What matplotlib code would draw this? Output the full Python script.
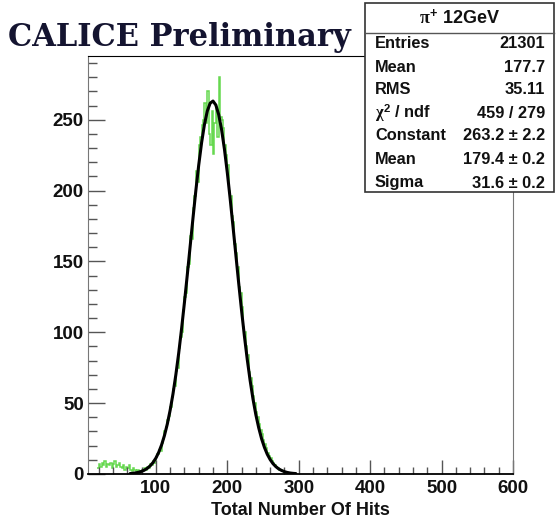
import numpy as np
import matplotlib
matplotlib.use("Agg")
import matplotlib.pyplot as plt
from matplotlib.patches import Rectangle
from matplotlib.ticker import MultipleLocator

# ---- data ----
bin_start = 18
bin_width = 2
tail_counts = [4, 7, 5, 8, 6, 9, 5, 7, 6, 8, 4, 7, 9, 5, 6, 8, 5, 4, 6, 3,
               5, 4, 6, 3, 2, 4, 3, 2, 3, 1, 2]
peak_counts = [3, 2, 4, 3, 5, 4, 7, 6, 9, 8,
               12, 14, 17, 16, 22, 25, 30, 33, 38, 41,
               47, 54, 60, 62, 73, 75, 89, 97, 100, 116,
               125, 128, 146, 148, 168, 166, 188, 196, 214, 206,
               232, 238, 246, 250, 262, 248, 270, 240, 232, 256,
               226, 248, 258, 238, 280, 252, 250, 244, 232, 225,
               218, 200, 196, 182, 178, 162, 156, 146, 132, 128,
               118, 104, 100, 90, 84, 72, 68, 62, 55, 50,
               44, 40, 35, 31, 28, 24, 21, 18, 15, 13,
               11, 9, 8, 6, 5, 4, 3, 3, 2, 2,
               1, 1, 1, 0]

fit_x = [64, 68, 72, 76, 80, 84, 88, 92, 96, 100, 104, 108, 112, 116, 120,
         124, 128, 132, 136, 140, 144, 148, 152, 156, 160, 164, 168, 172,
         176, 180, 184, 188, 192, 196, 200, 204, 208, 212, 216, 220, 224,
         228, 232, 236, 240, 244, 248, 252, 256, 260, 264, 268, 272, 276,
         280, 284, 288, 292, 296]
fit_y = [0.33, 0.53, 0.82, 1.25, 1.87, 2.76, 4.01, 5.74, 8.08, 11.2, 15.3,
         20.5, 27.1, 35.2, 45.0, 56.6, 70.1, 85.4, 102.5, 121.0, 140.5,
         160.7, 180.7, 200.1, 218.0, 233.7, 246.6, 256.1, 261.7, 263.2,
         260.4, 253.6, 243.1, 229.3, 212.8, 194.4, 174.7, 154.6, 134.5,
         115.3, 97.2, 80.7, 65.9, 52.9, 41.8, 32.6, 24.9, 18.8, 13.9, 10.2,
         7.3, 5.2, 3.6, 2.5, 1.66, 1.1, 0.7, 0.46, 0.29]

stats_title = r"$\pi^{+}$ 12GeV"
stats_labels = ["Entries", "Mean", "RMS", r"$\chi^{2}$ / ndf", "Constant", "Mean", "Sigma"]
stats_values = ["21301", "177.7", "35.11", "459 / 279",
                "263.2 \u00b1 2.2", "179.4 \u00b1 0.2", "31.6 \u00b1 0.2"]

xlim = (5, 600)
ylim = (0, 295)

# ---- figure ----
W, H = 557, 519
fig = plt.figure(figsize=(W / 100, H / 100), dpi=100)
plt.rcParams['font.family'] = ['Liberation Sans', 'DejaVu Sans']
plt.rcParams['mathtext.fontset'] = 'custom'
plt.rcParams['mathtext.rm'] = 'Liberation Sans:bold'
plt.rcParams['mathtext.it'] = 'Liberation Serif:bold'

ax = fig.add_axes([88 / W, 1 - 474 / H, (513 - 88) / W, (474 - 56) / H])

counts = tail_counts + peak_counts
edges = bin_start + bin_width * np.arange(len(counts) + 1)
ax.stairs(counts, edges, color='#66d84f', linewidth=1.1, baseline=None)
ax.plot(fit_x, fit_y, color='black', linewidth=2.2, solid_capstyle='round')

ax.set_xlim(*xlim)
ax.set_ylim(*ylim)
ax.xaxis.set_major_locator(MultipleLocator(100))
ax.xaxis.set_minor_locator(MultipleLocator(20))
ax.yaxis.set_major_locator(MultipleLocator(50))
ax.yaxis.set_minor_locator(MultipleLocator(10))
ax.tick_params(which='both', direction='in', top=False, right=False,
               color='#555555', width=1)
ax.tick_params(axis='x', which='major', length=10, labelsize=13.5, pad=4)
ax.tick_params(axis='x', which='minor', length=5)
ax.tick_params(axis='y', which='major', length=12, labelsize=13.5, pad=3)
ax.tick_params(axis='y', which='minor', length=6.5)
for lab in ax.get_xticklabels() + ax.get_yticklabels():
    lab.set_fontweight('bold')
    lab.set_color('#111111')
for s in ['left', 'right']:
    ax.spines[s].set_color('#777777')
ax.spines['bottom'].set_color('black')
ax.spines['top'].set_color('black')
ax.spines['bottom'].set_linewidth(1.3)
ax.set_xlabel("Total Number Of Hits", fontsize=13, fontweight='bold',
              color='#111111', labelpad=4)

# header text
fig.text(8 / W, 1 - 46 / H, "CALICE Preliminary", fontsize=22,
         family=['DejaVu Serif'], fontweight='bold',
         color='#141430', ha='left', va='baseline')

# stats box
bx0, bx1, by0, by1 = 365, 554, 3, 192
fig.patches.append(Rectangle((bx0 / W, 1 - by1 / H), (bx1 - bx0) / W, (by1 - by0) / H,
                             transform=fig.transFigure, facecolor='white',
                             edgecolor='#333333', linewidth=1.2, zorder=5))
fig.lines.append(plt.Line2D([bx0 / W, bx1 / W], [1 - 33 / H, 1 - 33 / H],
                            transform=fig.transFigure, color='#555555',
                            linewidth=1.0, zorder=6))
fig.text((bx0 + bx1) / 2 / W, 1 - 18 / H, stats_title, fontsize=13,
         fontweight='bold', ha='center', va='center', zorder=7, color='#111111')
row_y = [43, 67, 90, 113, 136, 160, 183]
for lab, val, yy in zip(stats_labels, stats_values, row_y):
    fig.text(375 / W, 1 - yy / H, lab, fontsize=11.8, fontweight='bold',
             ha='left', va='center', zorder=7, color='#111111')
    fig.text(545 / W, 1 - yy / H, val, fontsize=11.8, fontweight='bold',
             ha='right', va='center', zorder=7, color='#111111')

fig.savefig("out.png", dpi=100)
